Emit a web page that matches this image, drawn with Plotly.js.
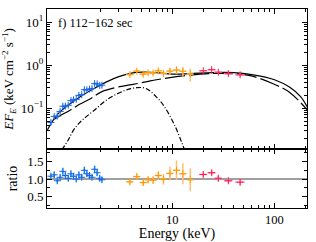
<!DOCTYPE html>
<html>
<head>
<meta charset="utf-8">
<script src="https://cdn.plot.ly/plotly-3.0.1.min.js"></script>
<style>html,body{margin:0;padding:0;background:#fff;}#chart{width:316px;height:242px;}</style>
</head>
<body>
<div id="chart"></div>
<script>
// ---- model curves ----
const totalE = [0.6,0.7,0.8,1.0,1.3,1.7,2.2,3.0,4.0,5.0,7.0,10,15,25,40,60,100,140,180,210];
const totalF = [0.031,0.057,0.083,0.127,0.196,0.285,0.394,0.545,0.657,0.69,0.675,0.623,0.64,0.675,0.675,0.606,0.46,0.31,0.185,0.105];

const plE = [0.7,0.8,1.0,1.24,1.6,2.05,3.08,4.0,5.65,7.0,9.5,14.9,23.5,36.8,57.8,97,142,210];
const plF = [0.055,0.067,0.090,0.123,0.169,0.243,0.318,0.354,0.416,0.46,0.516,0.59,0.64,0.64,0.574,0.37,0.23,0.09];

const bbE = [0.83,0.95,1.1,1.33,1.7,2.3,3.4,4.5,5.5,7.1,8.5,10.6,12.4,13.5];
const bbF = [0.0107,0.0174,0.033,0.054,0.087,0.158,0.256,0.30,0.29,0.176,0.103,0.039,0.0157,0.009];

// ---- data: blue (soft X-ray) ----
const blueE      = [0.65,0.70,0.75,0.80,0.85,0.90,0.96,1.02,1.08,1.15,1.22,1.30,1.38,1.46,1.55,1.64,1.74,1.84,1.95,2.05];
const blueEerr   = [0.02,0.02,0.02,0.02,0.025,0.025,0.03,0.03,0.03,0.035,0.035,0.04,0.04,0.045,0.045,0.05,0.05,0.055,0.055,0.06];
const blueFlux   = [0.0464,0.0638,0.0656,0.084,0.111,0.112,0.117,0.150,0.157,0.161,0.199,0.206,0.269,0.268,0.278,0.286,0.374,0.368,0.340,0.345];
const blueFluxErr= [0.005,0.006,0.006,0.007,0.009,0.009,0.01,0.012,0.012,0.013,0.016,0.016,0.02,0.02,0.021,0.022,0.028,0.028,0.026,0.027];
const blueRatio  = [1.08,1.12,0.95,1.05,1.22,1.10,1.02,1.15,1.08,1.00,1.12,1.05,1.25,1.15,1.10,1.05,1.28,1.18,1.02,0.98];
const blueRatioErr=[0.08,0.09,0.08,0.08,0.1,0.09,0.08,0.09,0.08,0.08,0.09,0.08,0.1,0.09,0.08,0.08,0.1,0.09,0.08,0.08];

// ---- data: orange ----
const orangeE      = [3.85,4.5,5.2,5.8,6.5,7.3,8.2,9.5,11.0,12.7,15.0];
const orangeEerr   = [0.3,0.35,0.4,0.45,0.5,0.55,0.6,0.7,0.8,0.95,1.1];
const orangeFlux   = [0.607,0.733,0.621,0.671,0.660,0.743,0.648,0.731,0.775,0.725,0.627];
const orangeFluxErr= [0.053,0.062,0.062,0.068,0.075,0.088,0.098,0.126,0.155,0.177,0.211];
const orangeRatio  = [0.92,1.07,0.90,0.98,0.97,1.10,0.99,1.16,1.25,1.15,0.98];
const orangeRatioErr=[0.08,0.09,0.09,0.10,0.11,0.13,0.15,0.20,0.28,0.30,0.33];

// ---- data: red ----
const redE      = [20.1,24.3,28.2,35.4,46.1];
const redEerr   = [1.8,2.2,2.6,3.5,5.0];
const redFlux   = [0.746,0.79,0.689,0.641,0.60];
const redFluxErr= [0.04,0.047,0.054,0.047,0.053];
const redRatio  = [1.13,1.18,1.02,0.95,0.91];
const redRatioErr=[0.06,0.07,0.08,0.07,0.08];

// ---- ticks ----
const xMajor = [10,100];
const xMajorText = ['10','100'];
const xMinor = [2,3,4,5,6,7,8,9,20,30,40,50,60,70,80,90,200];
const yMajor = [0.1,1,10];
const yMajorText = ['10<sup>\u22121</sup>','10<sup>0</sup>','10<sup>1</sup>'];
const yMinor = [0.02,0.03,0.04,0.05,0.06,0.07,0.08,0.09,0.2,0.3,0.4,0.5,0.6,0.7,0.8,0.9,2,3,4,5,6,7,8,9,20];
const rMajor = [0.5,1.0,1.5];
const rMajorText = ['0.5','1.0','1.5'];
const rMinor = [0.25,0.75,1.25,1.75];
const ratioRef = 1.0;

const FONT = '"Times New Roman", "Liberation Serif", "DejaVu Serif", serif';

function dataTraces(E, Eerr, F, Ferr, barCol, markCol, xa, ya) {
  return {
    x: E, y: F, xaxis: xa, yaxis: ya, type: 'scatter', mode: 'markers',
    marker: {symbol: 'cross-thin', size: 5, line: {color: markCol, width: 1}, color: markCol},
    error_x: {type: 'data', array: Eerr, color: barCol, thickness: 1.5, width: 0},
    error_y: {type: 'data', array: Ferr, color: barCol, thickness: 1.5, width: 0},
    showlegend: false, hoverinfo: 'skip'
  };
}

const traces = [
  {x: totalE, y: totalF, xaxis: 'x', yaxis: 'y', mode: 'lines', line: {color: '#000', width: 1.2, shape: 'spline'}, showlegend: false},
  {x: plE, y: plF, xaxis: 'x', yaxis: 'y', mode: 'lines', line: {color: '#000', width: 1.2, dash: '20px,4px', shape: 'spline'}, showlegend: false},
  {x: bbE, y: bbF, xaxis: 'x', yaxis: 'y', mode: 'lines', line: {color: '#000', width: 1.2, dash: '5px,2px,1px,2px', shape: 'spline'}, showlegend: false},
  dataTraces(blueE, blueEerr, blueFlux, blueFluxErr, '#33ccff', '#2060e0', 'x', 'y'),
  dataTraces(orangeE, orangeEerr, orangeFlux, orangeFluxErr, '#ffc070', '#ff9900', 'x', 'y'),
  dataTraces(redE, redEerr, redFlux, redFluxErr, '#ff80c8', '#ff2040', 'x', 'y'),
  dataTraces(blueE, blueEerr, blueRatio, blueRatioErr, '#33ccff', '#2060e0', 'x2', 'y2'),
  dataTraces(orangeE, orangeEerr, orangeRatio, orangeRatioErr, '#ffc070', '#ff9900', 'x2', 'y2'),
  dataTraces(redE, redEerr, redRatio, redRatioErr, '#ff80c8', '#ff2040', 'x2', 'y2')
];

const xRange = [Math.log10(0.595), Math.log10(208)];
const axisCommon = {
  showline: true, linecolor: '#000', linewidth: 1, mirror: 'ticks',
  ticks: 'inside', ticklen: 5, tickcolor: '#000', tickwidth: 1,
  showgrid: false, zeroline: false,
  tickfont: {family: FONT, size: 13, color: '#000'}
};

const layout = {
  width: 316, height: 242,
  margin: {l: 47, r: 9, t: 9, b: 34},
  paper_bgcolor: '#fff', plot_bgcolor: '#fff',
  font: {family: FONT, size: 13, color: '#000'},
  xaxis: Object.assign({}, axisCommon, {
    type: 'log', range: xRange, anchor: 'y', domain: [0, 1],
    tickmode: 'array', tickvals: xMajor, ticktext: xMajorText, showticklabels: false,
    minor: {tickmode: 'array', tickvals: xMinor, ticks: 'inside', ticklen: 3, tickcolor: '#000'}
  }),
  xaxis2: Object.assign({}, axisCommon, {
    type: 'log', range: xRange, anchor: 'y2', domain: [0, 1], matches: 'x',
    tickmode: 'array', tickvals: xMajor, ticktext: xMajorText, ticklabelstandoff: 0,
    tickfont: {family: FONT, size: 12.5, color: '#000'},
    minor: {tickmode: 'array', tickvals: xMinor, ticks: 'inside', ticklen: 3, tickcolor: '#000'},
    title: {text: 'Energy (keV)', font: {family: FONT, size: 14}, standoff: 6}
  }),
  yaxis: Object.assign({}, axisCommon, {
    type: 'log', range: [Math.log10(0.0112), Math.log10(20.5)], anchor: 'x', domain: [0.2965, 1],
    tickmode: 'array', tickvals: yMajor, ticktext: yMajorText,
    minor: {tickmode: 'array', tickvals: yMinor, ticks: 'inside', ticklen: 3, tickcolor: '#000'},
    title: {text: '<i>EF</i><sub><i>E</i></sub> (keV cm<sup>\u22122</sup> s<sup>\u22121</sup>)', font: {family: FONT, size: 13}, standoff: 6}
  }),
  yaxis2: Object.assign({}, axisCommon, {
    range: [0.17, 1.86], anchor: 'x2', domain: [0, 0.2965],
    tickmode: 'array', tickvals: rMajor, ticktext: rMajorText,
    minor: {tickmode: 'array', tickvals: rMinor, ticks: 'inside', ticklen: 3, tickcolor: '#000'},
    title: {text: 'ratio', font: {family: FONT, size: 14}, standoff: 6}
  }),
  shapes: [
    {type: 'line', xref: 'x2 domain', yref: 'y2', x0: 0, x1: 1, y0: ratioRef, y1: ratioRef,
     line: {color: '#808080', width: 1.5}, layer: 'below'}
  ],
  annotations: [
    {text: 'f) 112\u2212162 sec', xref: 'paper', yref: 'paper', x: 0.035, y: 0.93,
     xanchor: 'left', yanchor: 'middle', showarrow: false, font: {family: FONT, size: 12.5, color: '#000'}}
  ]
};

Plotly.newPlot('chart', traces, layout, {staticPlot: true, displayModeBar: false});
</script>
</body>
</html>
